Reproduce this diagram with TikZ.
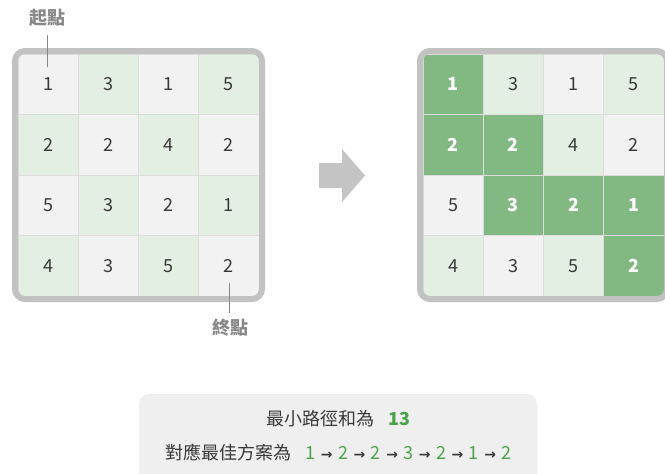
\documentclass[tikz,border=0pt]{standalone}
\usepackage{fontspec}
\setmainfont{Noto Sans CJK TC}
\newfontfamily\arrfont{DejaVu Sans}
\definecolor{cw}{HTML}{F2F2F2}
\definecolor{cg}{HTML}{E4EFE4}
\definecolor{cd}{HTML}{82B882}
\definecolor{tw}{HTML}{383838}
\definecolor{tg}{HTML}{383838}
\definecolor{td}{HTML}{FFFFFF}
\definecolor{framec}{HTML}{C2C2C2}
\definecolor{sepc}{HTML}{DDDDDD}
\definecolor{labc}{HTML}{888888}
\definecolor{numg}{HTML}{4CA24C}
\definecolor{boxc}{HTML}{EFEFEF}
\definecolor{arrowc}{HTML}{C4C4C4}
\def\fw{}\def\fg{}\def\fd{\bfseries}
\newcommand\pathnum[1]{\textcolor{numg}{#1}}
\newcommand\parr{\hspace{5.5pt}{\arrfont\bfseries\fontsize{14}{14}\selectfont →}\hspace{5.5pt}}
\begin{document}
\begin{tikzpicture}[x=1pt,y=-1pt,
  cell/.style={draw=sepc,line width=0.8pt,minimum width=60.25pt,minimum height=60.5pt,inner sep=0pt},
  frame/.style={draw=framec,line width=6pt,rounded corners=10pt},
  lab/.style={text=labc,font=\fontsize{18}{18}\selectfont\bfseries,inner sep=0pt},
  pointer/.style={draw=labc,line width=1pt},
  txt/.style={text=tw,font=\fontsize{18}{18}\selectfont,inner sep=0pt}]
\clip (0,0) rectangle (665,474);
\fill[white] (0,0) rectangle (665,474);
% left grid
\foreach \row [count=\r from 0] in {{1/w,3/g,1/w,5/g},{2/g,2/w,4/g,2/w},{5/w,3/g,2/w,1/g},{4/g,3/w,5/g,2/w}} {
  \foreach \v/\t [count=\c from 0] in \row {
    \node[cell,fill=c\t,text=t\t,font={\fontsize{18}{18}\selectfont\csname f\t\endcsname}] (L-\r-\c) at (48.125+60.25*\c,84.25+60.5*\r) {\v};
  }
}
\draw[frame] (15,51) rectangle (262,299);
% right grid
\foreach \row [count=\r from 0] in {{1/d,3/g,1/w,5/g},{2/d,2/d,4/g,2/w},{5/w,3/d,2/d,1/d},{4/g,3/w,5/g,2/d}} {
  \foreach \v/\t [count=\c from 0] in \row {
    \node[cell,fill=c\t,text=t\t,font={\fontsize{18}{18}\selectfont\csname f\t\endcsname}] (R-\r-\c) at (453.125+60.25*\c,84.25+60.5*\r) {\v};
  }
}
\draw[frame] (420,51) rectangle (667,299);
% labels
\node[lab] (start) at (47,18) {起點};
\coordinate (startTip) at (47.5,67);
\draw[pointer] (47.5,35) -- (startTip);
\node[lab] (end) at (230,328) {終點};
\coordinate (endTip) at (229.5,283);
\draw[pointer] (endTip) -- (229.5,313);
% arrow
\fill[arrowc] (319,163) -- (342,163) -- (342,149) -- (365,175.5) -- (342,202) -- (342,188) -- (319,188) -- cycle;
% bottom box
\fill[boxc,rounded corners=10pt] (139,394) rectangle (537,494);
\node[txt] (sum) at (338,419) {最小路徑和為\hspace{14pt}\textcolor{numg}{\bfseries 13}};
\node[txt] (plan) at (338.5,452) {對應最佳方案為\hspace{14pt}\pathnum{1}\parr\pathnum{2}\parr\pathnum{2}\parr\pathnum{3}\parr\pathnum{2}\parr\pathnum{1}\parr\pathnum{2}};
\end{tikzpicture}
\end{document}
